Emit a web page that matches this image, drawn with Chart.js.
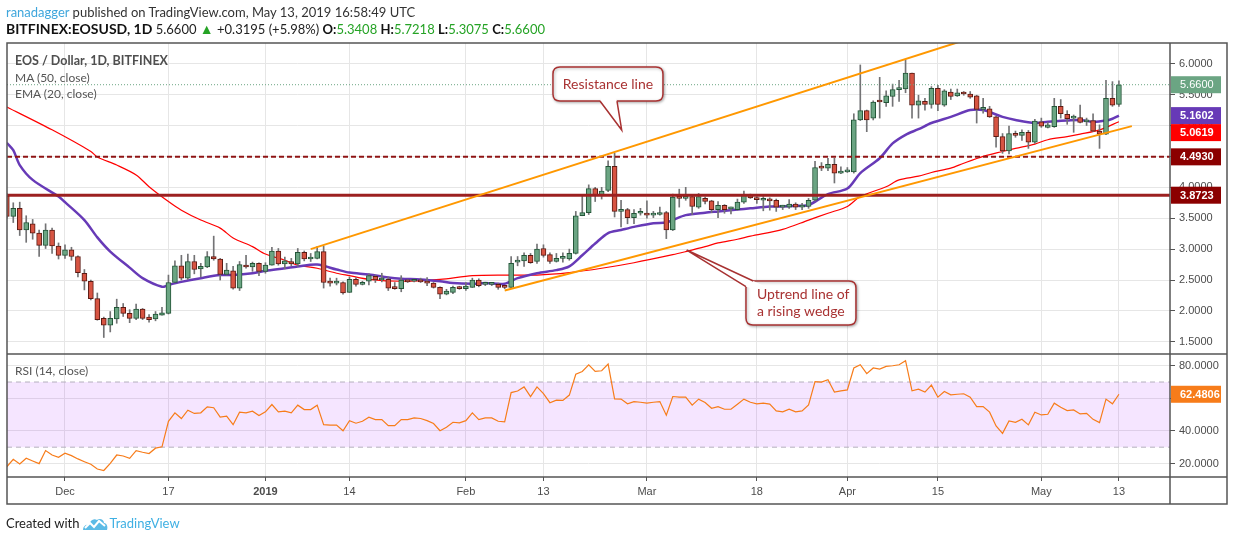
<!DOCTYPE html>
<html>
<head>
<meta charset="utf-8">
<script src="https://cdn.jsdelivr.net/npm/chart.js@4.4.1/dist/chart.umd.min.js"></script>
<style>
  html, body { margin: 0; padding: 0; background: #fff; }
  #wrap { position: relative; width: 1234px; height: 541px; overflow: hidden; font-family: Lato, "Noto Sans", sans-serif; }
  #chart { position: absolute; left: 0; top: 0; }
  .txt { position: absolute; white-space: nowrap; line-height: 16px; }
  #hdr1 { left: 6px; top: 4px; font-size: 13px; color: #333; }
  #hdr1 .user { color: #3fa6dc; }
  #hdr2 { left: 6px; top: 21px; font-size: 13px; color: #222; }
  #hdr2 b { font-weight: bold; color: #111; }
  #hdr2 .lbl { font-size: 14px; }
  #hdr2 .g { color: #25a325; }
  #hdr2 .up { color: #25a325; font-size: 14px; }
  .legend { left: 15px; font-size: 12px; color: #555; }
  #lg1 { top: 53px; font-size: 12.5px; font-weight: bold; color: #4f4f4f; }
  #lg2 { top: 70px; }
  #lg3 { top: 86px; }
  #lg4 { top: 363px; }
  #foot { left: 6px; top: 515px; font-size: 13px; color: #222; }
  #foot svg { vertical-align: -3px; margin: 0 1px 0 3px; }
  #foot .tv { color: #3fb0e3; }
</style>
</head>
<body>
<div id="wrap">
  <canvas id="chart" width="1234" height="541"></canvas>
  <div class="txt" id="hdr1"><span class="user">ranadagger</span> published on TradingView.com, May 13, 2019 16:58:49 UTC</div>
  <div class="txt" id="hdr2"><b class="lbl">BITFINEX:EOSUSD, 1D</b> 5.6600 <span class="up">&#9650;</span> +0.3195 (+5.98%) <b>O:</b><span class="g">5.3408</span> <b>H:</b><span class="g">5.7218</span> <b>L:</b><span class="g">5.3075</span> <b>C:</b><span class="g">5.6600</span></div>
  <div class="txt legend" id="lg1">EOS / Dollar, 1D, BITFINEX</div>
  <div class="txt legend" id="lg2">MA (50, close)</div>
  <div class="txt legend" id="lg3">EMA (20, close)</div>
  <div class="txt legend" id="lg4">RSI (14, close)</div>
  <div class="txt" id="foot">Created with<svg width="26" height="16" viewBox="0 0 26 16"><path d="M1 15 C1 11 4 9 7 10 C8 5 12 3 15 5 C17 3 22 4 22 8 C25 8 26 12 25 15 Z" fill="#5bbbe6"/><path d="M3 13 L8 8 L12 12 L17 6 L23 11" stroke="#fff" stroke-width="2" fill="none"/></svg><span class="tv">TradingView</span></div>
</div>
<script>
// days are counted from 1 Dec 2018, first candle is 22 Nov 2018
const firstDay = -9;

const openPrices = [
  3.86, 3.53, 3.66, 3.31, 3.41, 3.26, 3.06, 3.31, 3.05, 2.90,
  2.99, 2.88, 2.61, 2.48, 2.20, 1.88, 1.77, 1.87, 2.06, 1.96,
  1.88, 2.03, 1.90, 1.87, 1.93, 1.96, 2.46, 2.73, 2.53, 2.80,
  2.68, 2.71, 2.88, 2.84, 2.59, 2.65, 2.37, 2.74, 2.71, 2.77,
  2.64, 2.74, 2.97, 2.76, 2.80, 2.76, 2.95, 2.84, 2.85, 2.96,
  2.46, 2.45, 2.46, 2.30, 2.51, 2.43, 2.48, 2.56, 2.50, 2.51,
  2.37, 2.36, 2.50, 2.48, 2.50, 2.48, 2.45, 2.38, 2.27, 2.30,
  2.38, 2.36, 2.38, 2.50, 2.43, 2.43, 2.43, 2.385, 2.38, 2.79,
  2.81, 2.90, 2.80, 3.01, 2.91, 2.80, 2.85, 2.84, 2.93, 3.54,
  3.59, 3.98, 3.87, 3.95, 4.34, 3.61, 3.64, 3.51, 3.58, 3.56,
  3.55, 3.56, 3.59, 3.31, 3.84, 3.82, 3.85, 3.68, 3.82, 3.78,
  3.64, 3.71, 3.65, 3.64, 3.76, 3.87, 3.83, 3.79, 3.81, 3.79,
  3.68, 3.68, 3.73, 3.68, 3.69, 3.79, 4.32, 4.31, 4.37, 4.23,
  4.25, 4.25, 5.09, 5.24, 5.12, 5.40, 5.37, 5.47, 5.58, 5.59,
  5.85, 5.33, 5.39, 5.34, 5.60, 5.33, 5.54, 5.48, 5.53, 5.51,
  5.48, 5.26, 5.27, 5.14, 4.82, 4.59, 4.87, 4.84, 4.89, 4.73,
  5.06, 4.97, 4.98, 5.31, 5.18, 5.12, 5.13, 5.06, 5.08, 4.91,
  4.86, 5.44, 5.3408
];
const highPrices = [
  3.90, 3.75, 3.76, 3.54, 3.48, 3.31, 3.41, 3.34, 3.10, 3.07,
  3.03, 2.89, 2.67, 2.50, 2.29, 1.90, 1.99, 2.19, 2.12, 2.02,
  2.11, 2.04, 1.94, 1.99, 2.06, 2.58, 2.81, 2.90, 2.92, 2.90,
  2.77, 2.96, 3.21, 2.85, 2.77, 2.72, 2.80, 2.90, 2.79, 2.78,
  2.78, 3.03, 3.01, 2.87, 2.85, 3.01, 2.97, 2.93, 3.04, 3.05,
  2.53, 2.53, 2.47, 2.55, 2.54, 2.48, 2.60, 2.58, 2.61, 2.55,
  2.46, 2.57, 2.51, 2.51, 2.53, 2.54, 2.46, 2.39, 2.35, 2.40,
  2.40, 2.46, 2.53, 2.52, 2.46, 2.46, 2.45, 2.41, 2.88, 2.88,
  2.94, 2.93, 3.08, 3.07, 2.94, 2.93, 2.94, 3.00, 3.61, 3.88,
  4.04, 4.00, 4.00, 4.43, 4.55, 3.79, 3.66, 3.64, 3.66, 3.78,
  3.61, 3.68, 3.61, 3.89, 3.97, 4.00, 3.88, 3.90, 3.84, 3.79,
  3.77, 3.72, 3.68, 3.81, 3.94, 3.89, 3.85, 3.85, 3.83, 3.81,
  3.71, 3.80, 3.75, 3.74, 3.82, 4.42, 4.40, 4.47, 4.47, 4.33,
  4.32, 5.19, 5.98, 5.25, 5.40, 5.78, 5.56, 5.67, 5.73, 6.06,
  5.85, 5.49, 5.44, 5.63, 5.65, 5.58, 5.59, 5.59, 5.55, 5.55,
  5.49, 5.44, 5.31, 5.15, 4.87, 4.99, 4.91, 4.93, 4.92, 5.10,
  5.12, 5.05, 5.44, 5.42, 5.24, 5.17, 5.33, 5.12, 5.19, 5.01,
  5.73, 5.71, 5.7218
];
const lowPrices = [
  3.50, 3.43, 3.22, 3.11, 3.16, 2.88, 3.01, 2.93, 2.84, 2.85,
  2.82, 2.55, 2.34, 2.18, 1.85, 1.57, 1.66, 1.80, 1.91, 1.81,
  1.86, 1.86, 1.82, 1.84, 1.93, 1.95, 2.46, 2.50, 2.51, 2.60,
  2.55, 2.70, 2.82, 2.50, 2.58, 2.35, 2.33, 2.69, 2.64, 2.57,
  2.61, 2.74, 2.74, 2.68, 2.73, 2.72, 2.81, 2.80, 2.84, 2.37,
  2.40, 2.42, 2.27, 2.30, 2.40, 2.42, 2.42, 2.46, 2.47, 2.33,
  2.35, 2.31, 2.46, 2.47, 2.46, 2.41, 2.37, 2.20, 2.26, 2.28,
  2.35, 2.33, 2.38, 2.39, 2.41, 2.41, 2.35, 2.36, 2.37, 2.73,
  2.72, 2.77, 2.77, 2.87, 2.77, 2.79, 2.79, 2.82, 2.92, 3.54,
  3.56, 3.77, 3.81, 3.93, 3.52, 3.36, 3.41, 3.41, 3.55, 3.50,
  3.51, 3.55, 3.17, 3.30, 3.68, 3.79, 3.56, 3.66, 3.73, 3.59,
  3.51, 3.58, 3.57, 3.63, 3.74, 3.82, 3.74, 3.62, 3.63, 3.61,
  3.64, 3.66, 3.64, 3.64, 3.66, 3.78, 4.27, 4.27, 4.07, 4.22,
  4.24, 4.23, 5.08, 4.90, 5.09, 5.12, 5.31, 5.31, 5.39, 5.53,
  5.12, 5.12, 5.25, 5.28, 5.24, 5.31, 5.42, 5.47, 5.49, 5.44,
  5.04, 5.20, 5.13, 4.65, 4.55, 4.54, 4.81, 4.76, 4.63, 4.71,
  4.97, 4.96, 4.97, 5.12, 5.02, 4.89, 5.04, 5.00, 4.90, 4.63,
  4.85, 5.31, 5.3075
];
const closePrices = [
  3.53, 3.66, 3.31, 3.43, 3.26, 3.06, 3.31, 3.05, 2.90, 2.99,
  2.88, 2.62, 2.48, 2.20, 1.86, 1.77, 1.88, 2.06, 1.96, 1.88,
  2.03, 1.88, 1.86, 1.95, 1.97, 2.46, 2.73, 2.53, 2.80, 2.67,
  2.72, 2.88, 2.84, 2.59, 2.66, 2.37, 2.75, 2.71, 2.77, 2.64,
  2.74, 2.97, 2.76, 2.81, 2.76, 2.95, 2.84, 2.86, 2.96, 2.46,
  2.45, 2.46, 2.29, 2.51, 2.43, 2.46, 2.57, 2.50, 2.51, 2.37,
  2.36, 2.50, 2.47, 2.50, 2.47, 2.45, 2.38, 2.27, 2.32, 2.38,
  2.36, 2.40, 2.50, 2.41, 2.45, 2.44, 2.38, 2.38, 2.77, 2.82,
  2.90, 2.78, 3.00, 2.90, 2.80, 2.85, 2.85, 2.93, 3.54, 3.59,
  3.98, 3.87, 3.94, 4.34, 3.61, 3.63, 3.51, 3.58, 3.58, 3.55,
  3.56, 3.59, 3.31, 3.84, 3.82, 3.84, 3.69, 3.85, 3.77, 3.64,
  3.71, 3.64, 3.65, 3.76, 3.87, 3.83, 3.80, 3.81, 3.78, 3.68,
  3.69, 3.73, 3.68, 3.70, 3.79, 4.32, 4.31, 4.37, 4.23, 4.26,
  4.26, 5.09, 5.24, 5.09, 5.38, 5.38, 5.48, 5.58, 5.59, 5.85,
  5.33, 5.40, 5.34, 5.60, 5.34, 5.56, 5.47, 5.53, 5.51, 5.46,
  5.26, 5.28, 5.14, 4.82, 4.59, 4.87, 4.84, 4.89, 4.73, 5.07,
  4.99, 5.01, 5.31, 5.19, 5.11, 5.13, 5.05, 5.07, 4.91, 4.86,
  5.44, 5.33, 5.66
];
const rsiValues = [
  18.0, 22.6, 19.7, 23.2, 21.5, 19.9, 27.9, 25.2, 23.8, 26.3,
  24.8, 22.8, 21.1, 19.5, 16.6, 15.7, 20.1, 25.2, 24.6, 23.2,
  27.9, 26.9, 26.1, 29.4, 30.2, 45.9, 51.1, 47.6, 52.7, 50.7,
  51.1, 54.8, 54.2, 48.4, 49.0, 43.8, 51.5, 51.1, 52.1, 49.4,
  51.7, 56.2, 51.7, 52.1, 51.1, 55.8, 53.1, 53.1, 55.8, 43.8,
  43.6, 43.6, 40.1, 46.3, 44.7, 45.9, 48.4, 46.9, 46.9, 43.2,
  43.2, 46.9, 46.9, 48.0, 47.6, 46.3, 44.5, 40.1, 42.2, 45.3,
  44.9, 46.3, 51.1, 46.9, 48.0, 48.0, 45.9, 45.5, 63.5, 64.5,
  67.0, 61.0, 67.0, 62.9, 57.3, 58.9, 58.7, 62.0, 74.8, 76.5,
  80.6, 76.5, 76.9, 81.0, 59.7, 59.5, 56.6, 58.0, 57.6, 57.0,
  57.6, 58.0, 49.6, 61.1, 60.7, 60.7, 55.8, 59.5, 57.4, 53.9,
  54.9, 53.3, 53.3, 56.4, 59.5, 57.6, 56.6, 57.0, 56.4, 52.3,
  51.7, 53.3, 51.7, 52.3, 56.0, 70.3, 69.9, 71.4, 63.8, 64.6,
  65.2, 78.6, 80.6, 75.1, 78.6, 77.9, 79.6, 80.0, 80.6, 83.1,
  64.6, 65.6, 63.8, 68.1, 60.7, 64.2, 62.1, 62.5, 62.8, 60.7,
  54.9, 54.9, 51.5, 43.0, 38.5, 46.1, 45.3, 47.1, 43.7, 51.5,
  49.8, 50.2, 57.0, 54.5, 52.5, 52.9, 50.4, 50.8, 47.1, 45.1,
  59.5, 56.6, 62.4806
];

const emaDays = [-9, -8, -7, -5, -1, 0, 3, 5, 7, 10, 12, 15, 16, 18, 21, 24, 26, 29, 31, 34, 36, 39, 42, 44, 47,
  50, 52, 55, 58, 60, 63, 65, 68, 70, 73, 76, 78, 80, 82, 84, 86, 88, 91, 93, 94, 96, 99, 101, 104, 106,
  109, 111, 114, 115, 118, 121, 123, 126, 128, 130, 132, 134, 137, 140, 142, 145, 147, 150, 152, 155, 157, 159, 161, 162, 163];
const emaValues = [4.72, 4.60, 4.36, 4.12, 3.85, 3.76, 3.47, 3.19, 2.96, 2.70, 2.53, 2.39, 2.42, 2.47, 2.53, 2.58, 2.58, 2.61, 2.65, 2.69, 2.72, 2.75, 2.67, 2.62, 2.59,
  2.54, 2.52, 2.51, 2.48, 2.45, 2.44, 2.45, 2.44, 2.53, 2.61, 2.66, 2.72, 2.90, 3.09, 3.26, 3.31, 3.36, 3.42, 3.43, 3.47, 3.55, 3.59, 3.61, 3.64, 3.66,
  3.69, 3.69, 3.70, 3.71, 3.89, 3.98, 4.23, 4.47, 4.71, 4.85, 4.94, 5.04, 5.14, 5.25, 5.25, 5.14, 5.09, 5.04, 5.06, 5.08, 5.09, 5.06, 5.08, 5.11, 5.1602];

const maDays = [-9, -2, 4, 5, 8, 11, 13, 16, 18, 21, 24, 26, 29, 31, 34, 36, 39, 42, 44, 47, 52, 58, 63, 68, 73, 78, 83,
  88, 94, 96, 99, 101, 104, 106, 111, 115, 118, 121, 123, 127, 129, 132, 134, 137, 139, 142, 145, 147, 150, 152, 155, 157, 160, 163];
const maValues = [5.30, 4.93, 4.58, 4.49, 4.36, 4.20, 4.01, 3.77, 3.63, 3.47, 3.34, 3.18, 3.04, 2.92, 2.82, 2.74, 2.69, 2.61, 2.57, 2.51, 2.48, 2.51, 2.57, 2.58, 2.58, 2.62, 2.69,
  2.78, 2.91, 2.96, 3.04, 3.10, 3.16, 3.21, 3.32, 3.47, 3.58, 3.69, 3.85, 4.01, 4.12, 4.18, 4.24, 4.31, 4.39, 4.50, 4.58, 4.63, 4.70, 4.77, 4.82, 4.86, 4.93, 5.0619];

// hand drawn lines and levels
const resistanceDays = [38, 140];
const resistanceValues = [3.00, 6.41];
const uptrendDays = [68, 165];
const uptrendValues = [2.33, 4.99];
const resistanceLevel = 4.4930;
const supportLevel = 3.8723;
const rsiUpper = 70;
const rsiLower = 30;

const tickDays = [0, 16, 31, 44, 62, 74, 90, 107, 121, 135, 151, 163];
const tickLabels = ['Dec', '17', '2019', '14', 'Feb', '13', 'Mar', '18', 'Apr', '15', 'May', '13'];
const priceTicks = [1.5, 2.0, 2.5, 3.0, 3.5, 4.0, 4.5, 5.0, 5.5, 6.0];
const rsiTicks = [20, 40, 60, 80];

const X_MIN = -8.97, X_MAX = 170.9;
const PRICE_MIN = 1.303, PRICE_MAX = 6.335;
const RSI_MIN = 11.7, RSI_MAX = 87.2;

const upFill = '#6ba583', upBorder = '#225437';
const downFill = '#d75442', downBorder = '#5b1a13';
const wickColor = '#737375';
const gridColor = '#e6e6e6';
const frameColor = '#555';
const axisText = '#4c4c4c';
const maColor = '#ff0000', emaColor = '#673ab7';
const trendColor = '#ff9800', levelColor = '#8b0000';
const rsiColor = '#f77c1a';
const lastColor = '#6ba583';
const calloutColor = '#a83232';
const axisFont = '"Liberation Sans", Arial, sans-serif';

const days = closePrices.map((_, i) => firstDay + i);
const isUp = (i) => closePrices[i] >= openPrices[i];
const pairs = (xs, ys) => xs.map((x, i) => ({ x: x, y: ys[i] }));
const flat = (v) => [{ x: X_MIN, y: v }, { x: X_MAX, y: v }];

const callouts = [
  {
    lines: ['Resistance line'], align: 'center',
    box: [75.47, 5.947, 92.48, 5.396],
    pointer: [[82.74, 5.396], [86.1, 4.927], [85.37, 5.396]]
  },
  {
    lines: ['Uptrend line of', 'a rising wedge'], align: 'left',
    box: [105.32, 2.484, 122.33, 1.772],
    pointer: [[106.45, 2.484], [96.15, 2.985], [105.32, 2.392]]
  }
];

function roundRectPath(ctx, x, y, w, h, r) {
  ctx.beginPath();
  ctx.moveTo(x + r, y);
  ctx.lineTo(x + w - r, y);
  ctx.quadraticCurveTo(x + w, y, x + w, y + r);
  ctx.lineTo(x + w, y + h - r);
  ctx.quadraticCurveTo(x + w, y + h, x + w - r, y + h);
  ctx.lineTo(x + r, y + h);
  ctx.quadraticCurveTo(x, y + h, x, y + h - r);
  ctx.lineTo(x, y + r);
  ctx.quadraticCurveTo(x, y, x + r, y);
  ctx.closePath();
}

function drawCallout(ctx, c, xs, ys) {
  const L = xs.getPixelForValue(c.box[0]), T = ys.getPixelForValue(c.box[1]);
  const R = xs.getPixelForValue(c.box[2]), B = ys.getPixelForValue(c.box[3]);
  const p = c.pointer.map(q => [xs.getPixelForValue(q[0]), ys.getPixelForValue(q[1])]);
  const cx = (L + R) / 2, cy = (T + B) / 2;
  ctx.save();
  ctx.lineWidth = 1.5;
  ctx.strokeStyle = calloutColor;
  ctx.fillStyle = '#fff';
  ctx.shadowColor = 'rgba(0,0,0,0.3)';
  ctx.shadowBlur = 3;
  ctx.shadowOffsetX = 1;
  ctx.shadowOffsetY = 1;
  roundRectPath(ctx, L, T, R - L, B - T, 7);
  ctx.fill();
  ctx.stroke();
  ctx.shadowColor = 'transparent';
  ctx.beginPath();
  ctx.moveTo(p[0][0], p[0][1]);
  ctx.lineTo(p[1][0], p[1][1]);
  ctx.lineTo(p[2][0], p[2][1]);
  ctx.lineTo(cx, cy);
  ctx.closePath();
  ctx.fill();
  ctx.beginPath();
  ctx.moveTo(p[0][0], p[0][1]);
  ctx.lineTo(p[1][0], p[1][1]);
  ctx.lineTo(p[2][0], p[2][1]);
  ctx.stroke();
  ctx.fillStyle = calloutColor;
  ctx.font = '14px Lato, "Noto Sans", sans-serif';
  ctx.textBaseline = 'middle';
  const lh = 17;
  const y0 = cy - (c.lines.length - 1) * lh / 2;
  c.lines.forEach((t, i) => {
    if (c.align === 'center') {
      ctx.textAlign = 'center';
      ctx.fillText(t, cx, y0 + i * lh);
    } else {
      ctx.textAlign = 'left';
      ctx.fillText(t, L + 11, y0 + i * lh);
    }
  });
  ctx.restore();
}

const tagHeight = 17, tagWidth = 50;
function drawTag(ctx, x, top, text, bg, bold) {
  ctx.fillStyle = bg;
  ctx.fillRect(x, top, tagWidth, tagHeight);
  ctx.fillStyle = '#fff';
  ctx.font = (bold ? 'bold ' : '') + '11px ' + axisFont;
  ctx.textAlign = 'left';
  ctx.textBaseline = 'middle';
  ctx.fillText(text, x + 9, top + tagHeight / 2 + 0.5);
}

function hline(ctx, x0, x1, y) {
  ctx.beginPath();
  ctx.moveTo(x0, y);
  ctx.lineTo(x1, y);
  ctx.stroke();
}
function vline(ctx, x, y0, y1) {
  ctx.beginPath();
  ctx.moveTo(x, y0);
  ctx.lineTo(x, y1);
  ctx.stroke();
}

const paneDecor = {
  id: 'paneDecor',
  afterDatasetsDraw(chart) {
    const { ctx, scales } = chart;
    callouts.forEach(c => drawCallout(ctx, c, scales.x, scales.y));
  },
  afterDraw(chart) {
    const { ctx, chartArea, scales } = chart;
    const left = chartArea.left, right = chartArea.right;
    const outerRight = right + 57, bottom = scales.x.bottom;
    const tags = [
      { value: closePrices[closePrices.length - 1], color: lastColor, bold: false },
      { value: emaValues[emaValues.length - 1], color: emaColor, bold: true },
      { value: maValues[maValues.length - 1], color: maColor, bold: true },
      { value: resistanceLevel, color: levelColor, bold: true },
      { value: supportLevel, color: levelColor, bold: true }
    ].sort((a, b) => b.value - a.value);
    let prevBottom = -Infinity;
    ctx.save();
    tags.forEach(t => {
      let top = scales.y.getPixelForValue(t.value) - tagHeight / 2;
      if (top < prevBottom) top = prevBottom;
      drawTag(ctx, right + 1, top, t.value.toFixed(4), t.color, t.bold);
      prevBottom = top + tagHeight;
    });
    const rsiLast = rsiValues[rsiValues.length - 1];
    drawTag(ctx, right + 1, scales.yRsi.getPixelForValue(rsiLast) - tagHeight / 2, rsiLast.toFixed(4), rsiColor, true);

    ctx.strokeStyle = frameColor;
    ctx.lineWidth = 1.5;
    ctx.strokeRect(left, chartArea.top, outerRight - left, bottom - chartArea.top);
    vline(ctx, right, chartArea.top, bottom);
    hline(ctx, left, outerRight, scales.y.bottom);
    hline(ctx, left, outerRight, chartArea.bottom);
    ctx.restore();
  }
};

Chart.defaults.font.family = axisFont;

new Chart(document.getElementById('chart'), {
  type: 'bar',
  data: {
    datasets: [
      { type: 'line', data: pairs(resistanceDays, resistanceValues), borderColor: trendColor, borderWidth: 2, pointRadius: 0, order: 0 },
      { type: 'line', data: pairs(uptrendDays, uptrendValues), borderColor: trendColor, borderWidth: 2, pointRadius: 0, order: 0 },
      { type: 'line', data: flat(resistanceLevel), borderColor: '#8f1414', borderWidth: 2, borderDash: [5, 3], pointRadius: 0, order: 0 },
      { type: 'line', data: flat(supportLevel), borderColor: '#9c2020', borderWidth: 3, pointRadius: 0, order: 0 },
      { type: 'line', data: flat(closePrices[closePrices.length - 1]), borderColor: lastColor, borderWidth: 1, borderDash: [1, 2], pointRadius: 0, order: 0 },
      {
        data: days.map((d, i) => ({ x: d, y: [openPrices[i], closePrices[i]] })),
        backgroundColor: (c) => isUp(c.dataIndex) ? upFill : downFill,
        borderColor: (c) => isUp(c.dataIndex) ? upBorder : downBorder,
        borderWidth: 1, borderSkipped: false, barThickness: 5, minBarLength: 2, grouped: false, order: 1
      },
      {
        data: days.map((d, i) => ({ x: d, y: [lowPrices[i], highPrices[i]] })),
        backgroundColor: wickColor, borderWidth: 0, barThickness: 1, grouped: false, order: 2
      },
      { type: 'line', data: pairs(emaDays, emaValues), borderColor: emaColor, borderWidth: 2.5, pointRadius: 0, tension: 0.3, order: 3 },
      { type: 'line', data: pairs(maDays, maValues), borderColor: maColor, borderWidth: 1.2, pointRadius: 0, tension: 0.3, order: 3 },
      { type: 'line', yAxisID: 'yRsi', data: days.map((d, i) => ({ x: d, y: rsiValues[i] })), borderColor: rsiColor, borderWidth: 1.2, pointRadius: 0, order: 0 },
      { type: 'line', yAxisID: 'yRsi', data: flat(rsiUpper), borderColor: '#b4afbd', borderWidth: 1, borderDash: [5, 4], pointRadius: 0, order: 5 },
      { type: 'line', yAxisID: 'yRsi', data: flat(rsiLower), borderColor: '#b4afbd', borderWidth: 1, borderDash: [5, 4], pointRadius: 0, fill: '-1', backgroundColor: 'rgba(153, 0, 255, 0.1)', order: 5 }
    ]
  },
  options: {
    responsive: false,
    animation: false,
    layout: { padding: { left: 7, right: 7, top: 43, bottom: 37 } },
    plugins: { legend: { display: false }, tooltip: { enabled: false } },
    scales: {
      x: {
        type: 'linear', min: X_MIN, max: X_MAX, offset: false,
        afterBuildTicks: (s) => { s.ticks = tickDays.map(v => ({ value: v })); },
        afterFit: (s) => { s.height = 27; },
        ticks: {
          autoSkip: false, maxRotation: 0, padding: 4, color: axisText,
          callback: (v, i) => tickLabels[i],
          font: (c) => ({ family: axisFont, size: 11, weight: c.tick && c.tick.label === '2019' ? 'bold' : 'normal' })
        },
        grid: { color: gridColor, tickColor: frameColor, tickLength: 4, offset: false },
        border: { display: false }
      },
      y: {
        position: 'right', stack: 'panes', stackWeight: 311,
        min: PRICE_MIN, max: PRICE_MAX, beginAtZero: false,
        afterBuildTicks: (s) => { s.ticks = priceTicks.map(v => ({ value: v })); },
        afterFit: (s) => { s.width = 57; },
        ticks: { padding: 4, color: axisText, font: { size: 11 }, callback: (v) => Number(v).toFixed(4) },
        grid: { color: gridColor, tickColor: frameColor, tickLength: 5 },
        border: { display: false }
      },
      yRsi: {
        position: 'right', stack: 'panes', stackWeight: 123,
        min: RSI_MIN, max: RSI_MAX, beginAtZero: false,
        afterBuildTicks: (s) => { s.ticks = rsiTicks.map(v => ({ value: v })); },
        afterFit: (s) => { s.width = 57; },
        ticks: { padding: 4, color: axisText, font: { size: 11 }, callback: (v) => Number(v).toFixed(4) },
        grid: { color: gridColor, tickColor: frameColor, tickLength: 5 },
        border: { display: false }
      }
    }
  },
  plugins: [paneDecor]
});
</script>
</body>
</html>
